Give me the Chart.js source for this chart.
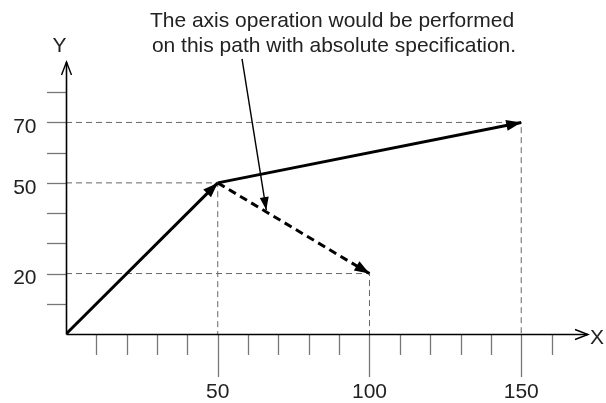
<!DOCTYPE html>
<html>
<head>
<meta charset="utf-8">
<script src="https://cdn.jsdelivr.net/npm/chart.js@4"></script>
<style>
  html, body { margin: 0; padding: 0; background: #fff; }
</style>
</head>
<body>
<canvas id="chart" width="606" height="403"></canvas>
<script>
// path segments (X, Y)
const pathToP1 = [{ x: 0, y: 0 }, { x: 50, y: 50 }];
const pathP1ToP2 = [{ x: 50, y: 50 }, { x: 150, y: 70 }];
const pathAbsolute = [{ x: 50, y: 50 }, { x: 100, y: 20 }];
// dashed guide lines
const guide70 = [{ x: 0, y: 70 }, { x: 150, y: 70 }, { x: 150, y: 0 }];
const guide50 = [{ x: 0, y: 50 }, { x: 50, y: 50 }, { x: 50, y: 0 }];
const guide20 = [{ x: 0, y: 20 }, { x: 100, y: 20 }, { x: 100, y: 0 }];
// callout pointer
const pointer = [{ x: 58, y: 91 }, { x: 66, y: 41 }];
// ticks
const xTicks = [10, 20, 30, 40, 50, 60, 70, 80, 90, 100, 110, 120, 130, 140, 150, 160];
const xLabels = [50, 100, 150];
const yTicks = [10, 20, 30, 40, 50, 60, 70, 80];
const yLabels = [20, 50, 70];
const note = ["The axis operation would be performed", "on this path with absolute specification."];

const FONT = '21px "Liberation Sans", Arial, sans-serif';

function arrowHead(ctx, x0, y0, x1, y1, len, half, filled) {
  const a = Math.atan2(y1 - y0, x1 - x0);
  const bx = x1 - len * Math.cos(a), by = y1 - len * Math.sin(a);
  const px = -Math.sin(a) * half, py = Math.cos(a) * half;
  ctx.beginPath();
  ctx.moveTo(bx + px, by + py);
  ctx.lineTo(x1, y1);
  ctx.lineTo(bx - px, by - py);
  if (filled) { ctx.closePath(); ctx.fill(); } else { ctx.stroke(); }
}

// axes, ticks, labels, arrowheads
const drawing = {
  id: "drawing",
  beforeDatasetsDraw(chart) {
    const ctx = chart.ctx, sx = chart.scales.x, sy = chart.scales.y;
    const ox = sx.getPixelForValue(0), oy = sy.getPixelForValue(0);
    const right = sx.getPixelForValue(sx.max), top = sy.getPixelForValue(sy.max);
    ctx.save();
    // tick marks
    ctx.strokeStyle = "#777";
    ctx.lineWidth = 1.3;
    xTicks.forEach(v => {
      const px = Math.round(sx.getPixelForValue(v)) + 0.5;
      ctx.beginPath();
      ctx.moveTo(px, oy);
      ctx.lineTo(px, oy + (xLabels.includes(v) ? 43 : 21));
      ctx.stroke();
    });
    yTicks.forEach(v => {
      const py = Math.round(sy.getPixelForValue(v)) + 0.5;
      ctx.beginPath();
      ctx.moveTo(ox - 19, py);
      ctx.lineTo(ox, py);
      ctx.stroke();
    });
    ctx.restore();
  },
  afterDatasetsDraw(chart) {
    const ctx = chart.ctx, sx = chart.scales.x, sy = chart.scales.y;
    const ox = Math.round(sx.getPixelForValue(0)) + 0.5, oy = Math.round(sy.getPixelForValue(0)) + 0.5;
    const right = sx.getPixelForValue(sx.max), top = sy.getPixelForValue(sy.max);
    ctx.save();
    // axes
    ctx.strokeStyle = "#000";
    ctx.lineWidth = 1.6;
    ctx.beginPath();
    ctx.moveTo(ox, oy); ctx.lineTo(right, oy);
    ctx.moveTo(ox, oy); ctx.lineTo(ox, top);
    ctx.stroke();
    ctx.lineWidth = 1.4;
    arrowHead(ctx, ox, oy, right, oy, 13, 5, false);
    arrowHead(ctx, ox, oy, ox, top, 13, 5, false);

    // arrowheads on the paths
    ctx.fillStyle = "#000";
    chart.data.datasets.forEach((ds, i) => {
      if (!ds.arrow) return;
      const pts = chart.getDatasetMeta(i).data;
      const a = pts[pts.length - 2], b = pts[pts.length - 1];
      arrowHead(ctx, a.x, a.y, b.x, b.y, ds.arrow[0], ds.arrow[1], true);
    });

    // labels
    ctx.fillStyle = "#222";
    ctx.font = FONT;
    ctx.textBaseline = "middle";
    ctx.textAlign = "right";
    yLabels.forEach(v => ctx.fillText(String(v), ox - 30, sy.getPixelForValue(v) + 5));
    ctx.textAlign = "center";
    xLabels.forEach(v => ctx.fillText(String(v), sx.getPixelForValue(v), oy + 58));
    ctx.fillText("X", right + 9, oy + 4);
    ctx.fillText("Y", ox - 7, top - 16);
    ctx.textBaseline = "alphabetic";
    ctx.fillText(note[0], 332, 27);
    ctx.fillText(note[1], 334, 52);
    ctx.restore();
  }
};

const guideStyle = { borderColor: "#666", borderWidth: 1, borderDash: [6, 4], pointRadius: 0, showLine: true, fill: false };

new Chart(document.getElementById("chart"), {
  type: "scatter",
  data: {
    datasets: [
      { data: pointer, borderColor: "#000", borderWidth: 1.4, pointRadius: 0, showLine: true, clip: false, arrow: [13, 4.5] },
      { data: pathToP1, borderColor: "#000", borderWidth: 3, pointRadius: 0, showLine: true, arrow: [15, 5.5] },
      { data: pathP1ToP2, borderColor: "#000", borderWidth: 3, pointRadius: 0, showLine: true, arrow: [15, 5.5] },
      { data: pathAbsolute, borderColor: "#000", borderWidth: 3, borderDash: [8, 5], pointRadius: 0, showLine: true, arrow: [15, 5.5] },
      { data: guide70, ...guideStyle },
      { data: guide50, ...guideStyle },
      { data: guide20, ...guideStyle }
    ]
  },
  options: {
    responsive: false,
    animation: false,
    layout: { padding: { left: 66, right: 18, top: 62, bottom: 69 } },
    plugins: { legend: { display: false }, tooltip: { enabled: false } },
    scales: {
      x: { type: "linear", min: 0, max: 172, display: false },
      y: { type: "linear", min: 0, max: 90, display: false }
    }
  },
  plugins: [drawing]
});
</script>
</body>
</html>
